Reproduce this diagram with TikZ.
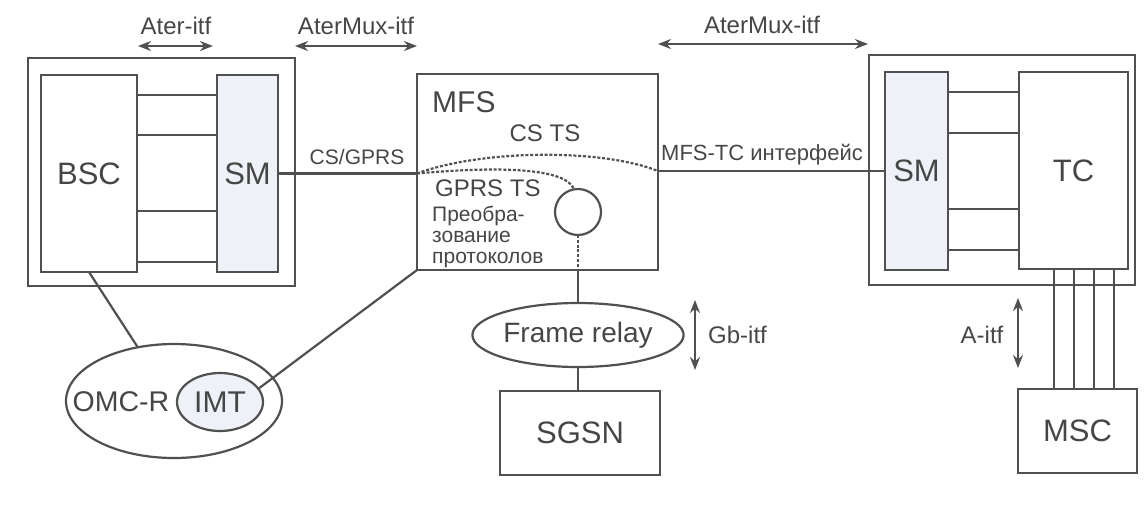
\documentclass[tikz,border=0pt]{standalone}
\usepackage{fontspec}
\setmainfont{Liberation Sans}
\usetikzlibrary{arrows.meta,shapes.geometric}
\definecolor{ink}{HTML}{505050}
\definecolor{txt}{HTML}{464646}
\definecolor{smfill}{HTML}{EEF1F7}
\tikzset{
  unit/.style={draw=ink, line width=2.2pt, inner sep=0pt, outer sep=0pt, rectangle, text=txt, font=\fontsize{31}{31}\selectfont},
  oval/.style={draw=ink, line width=2.2pt, inner sep=0pt, outer sep=0pt, ellipse, text=txt},
  wire/.style={draw=ink, line width=2.2pt},
  tsline/.style={draw=ink, line width=2.2pt, dash pattern=on 3pt off 1.8pt},
  itf/.style={draw=ink, line width=2.4pt, {Stealth[length=13pt,width=10pt]}-{Stealth[length=13pt,width=10pt]}},
  lbl/.style={text=txt, inner sep=0pt, font=\fontsize{24}{24}\selectfont},
  small/.style={text=txt, inner sep=0pt, font=\fontsize{21}{21}\selectfont},
}
\begin{document}
\begin{tikzpicture}[x=1pt, y=-1pt]
\useasboundingbox (0,0) rectangle (1146,504);

% BSC side
\node[unit, minimum width=267pt, minimum height=228pt] (bscframe) at (161.5,172) {};
\node[unit, minimum width=96pt, minimum height=197pt] (bsc) at (89,173.5) {BSC};
\node[unit, fill=smfill, minimum width=61pt, minimum height=197pt] (sma) at (247.5,173.5) {SM};
\foreach \yy in {95,135,211,262}
  \draw[wire] (bsc.east |- 0,\yy) -- (sma.west |- 0,\yy);

% MFS
\node[unit, minimum width=241pt, minimum height=196pt] (mfs) at (537.5,172) {};
\node[anchor=west, text=txt, inner sep=0pt, font=\fontsize{30}{30}\selectfont] (mfslbl) at (432,102) {MFS};
\node[circle, draw=ink, line width=2.2pt, minimum size=46pt, inner sep=0pt, outer sep=0pt] (conv) at (578,212) {};
\node[lbl] (cstsl) at (545,133) {CS TS};
\node[lbl, anchor=west] (gprsl) at (435,188) {GPRS TS};
\node[small, anchor=north west, align=left] (convl) at (432,206) {Преобра-\\зование\\протоколов};

% TC side
\node[unit, minimum width=266pt, minimum height=230pt] (tcframe) at (1002,170) {};
\node[unit, fill=smfill, minimum width=63pt, minimum height=198pt] (smb) at (916.5,171) {SM};
\node[unit, minimum width=109pt, minimum height=197pt] (tc) at (1073.5,170.5) {TC};
\foreach \yy in {92,133,209,250}
  \draw[wire] (smb.east |- 0,\yy) -- (tc.west |- 0,\yy);

% lower units
\node[unit, minimum width=119pt, minimum height=84pt] (msc) at (1077.5,431) {MSC};
\node[unit, minimum width=160pt, minimum height=84pt] (sgsn) at (580,433) {SGSN};
\node[oval, minimum width=203pt, minimum height=64pt, font=\fontsize{28}{28}\selectfont] (fr) at (578,335) {Frame relay};
\node[oval, minimum width=216pt, minimum height=114pt] (omc) at (174,401) {};
\node[oval, fill=smfill, minimum width=86pt, minimum height=58pt, font=\fontsize{30}{30}\selectfont] (imt) at (220,402) {IMT};
\node[text=txt, inner sep=0pt, font=\fontsize{28.5}{28.5}\selectfont] (omcl) at (121,402) {OMC-R};

% trunk lines
\draw[wire] (sma.east) -- (sma.east -| mfs.west);
\draw[wire] (mfs.east |- smb.west) -- (smb.west);
\node[small] (csgprs) at (357,157) {CS/GPRS};
\node[small, font=\fontsize{22}{22}\selectfont] (mfstc) at (762,155) {MFS-TC интерфейс};

% time-slot paths inside MFS
\coordinate (tsin) at (mfs.west |- sma.east);
\coordinate (tsout) at (mfs.east |- smb.west);
\draw[tsline] (tsin) .. controls (480,150) and (600,148) .. (tsout);
\draw[tsline] (tsin) .. controls (500,166) and (566,168) .. (conv.100);
\coordinate (gbport) at (conv.south |- mfs.south);
\draw[tsline] (conv.south) -- (gbport);
\draw[wire] (gbport) -- (fr.north);
\draw[wire] (fr.south) -- (fr.south |- sgsn.north);

% A interface trunks
\foreach \xx in {1054,1074,1094,1114}
  \draw[wire] (tc.south -| \xx,0) -- (msc.north -| \xx,0);

% O&M links
\draw[wire] (bsc.south) -- (omc.124);
\draw[wire] (mfs.south west) -- (imt.19);

% interface markers
\coordinate (aterL) at (138,46);  \coordinate (aterR) at (213,46);
\coordinate (amxL) at (295,46);   \coordinate (amxR) at (417,46);
\coordinate (amyL) at (658,44);   \coordinate (amyR) at (868,44);
\coordinate (gbT) at (695,300);   \coordinate (gbB) at (695,370);
\coordinate (aT) at (1018,298);   \coordinate (aB) at (1018,368);
\draw[itf] (aterL) -- (aterR);
\draw[itf] (amxL) -- (amxR);
\draw[itf] (amyL) -- (amyR);
\draw[itf] (gbT) -- (gbB);
\draw[itf] (aT) -- (aB);
\node[lbl] (aterlbl) at (176,26) {Ater-itf};
\node[lbl] (amxlbl) at (356,26) {AterMux-itf};
\node[lbl] (amylbl) at (762,25) {AterMux-itf};
\node[lbl, anchor=west] (gblbl) at (708,335) {Gb-itf};
\node[lbl] (albl) at (982,335) {A-itf};
\end{tikzpicture}
\end{document}
